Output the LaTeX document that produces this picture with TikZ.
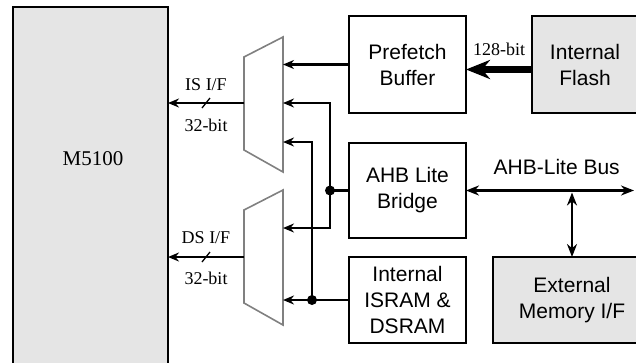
\documentclass[tikz,border=0pt]{standalone}
\usepackage{fontspec}
\setmainfont{Liberation Serif}
\setsansfont{Liberation Sans}
\usetikzlibrary{arrows.meta,positioning,calc}

\begin{document}
\begin{tikzpicture}[
  x=1pt, y=-1pt,
  >={Stealth[length=11pt,width=9pt]},
  every node/.style={inner sep=0pt, outer sep=0pt},
  blk/.style={draw, line width=2.2pt, fill=white, minimum width=117pt,
    align=center, font=\sffamily\fontsize{21}{26}\selectfont},
  mem/.style={blk, fill=gray!20},
  conn/.style={line width=2.2pt},
  fat/.style={line width=7pt, -{Stealth[length=24pt,width=19pt]}},
  busarr/.style={line width=2.2pt,
    {Stealth[length=13pt,width=10pt]}-{Stealth[length=13pt,width=10pt]}},
  mux/.style={draw=gray, line width=1.6pt},
  note/.style={font=\fontsize{18}{20}\selectfont},
]
\useasboundingbox (0,0) rectangle (636,362);
\clip (0,0) rectangle (636,362);

% Core
\node[mem, minimum width=155pt, minimum height=400pt, anchor=north west] (cpu) at (13,7) {};
\node[font=\fontsize{21}{24}\selectfont] (cpulbl) at (93,159) {M5100};
% Prefetch buffer
\node[blk, minimum height=97pt, anchor=north west] (pf) at (349,16) {Prefetch\\Buffer};
% Flash to the right of the buffer
\node[mem, minimum width=106pt, minimum height=97pt, right=66pt of pf] (fl) {Internal\\Flash};
% Bridge below buffer
\node[blk, minimum height=95pt, below=30pt of pf] (br) {AHB Lite\\Bridge};
% SRAM below bridge
\node[blk, minimum height=86pt, below=19pt of br] (sr) {Internal\\ISRAM \&\\DSRAM};
% External memory
\node[mem, minimum width=158pt, minimum height=86pt, right=27pt of sr] (ext) {External\\Memory I/F};

% Muxes
\draw[mux] (244,57) -- (283,37) -- (283,172) -- (244,150) -- cycle;
\draw[mux] (244,210) -- (283,190) -- (283,325) -- (244,303) -- cycle;
\coordinate (imux) at (244,103);
\coordinate (dmux) at (244,257);
\coordinate (muxr) at (283,0);
\coordinate (ia) at (283,103);
\coordinate (ib) at (283,142);
\coordinate (da) at (283,228);
\coordinate (vahb) at (330,0);
\coordinate (vsram) at (312,0);
\coordinate (busend) at (634,0);

% Arrows
\draw[conn,->] (pf.west) -- (pf.west -| muxr);
\draw[conn] (br.west) -- (br.west -| vahb) coordinate (jahb);
\draw[conn,<->] (ia) -| (jahb) |- (da);
\fill (jahb) circle (5pt);
\draw[conn] (sr.west) -- (sr.west -| vsram) coordinate (jsr);
\draw[conn,<->] (ib) -| (jsr) -- (sr.west -| muxr);
\fill (jsr) circle (5pt);

\draw[conn,->] (imux) -- (imux -| cpu.east) coordinate[midway] (isw)
  node[note, midway, above=12pt] (islbl) {IS I/F}
  node[note, midway, below=16pt] (isbit) {32-bit};
\draw[line width=1.3pt] ([shift={(-4,5)}]isw) -- ([shift={(4,-5)}]isw);
\draw[conn,->] (dmux) -- (dmux -| cpu.east) coordinate[midway] (dsw)
  node[note, midway, above=13pt] (dslbl) {DS I/F}
  node[note, midway, below=15pt] (dsbit) {32-bit};
\draw[line width=1.3pt] ([shift={(-4,5)}]dsw) -- ([shift={(4,-5)}]dsw);

\draw[fat] ([yshift=-5pt]fl.west) -- ([yshift=-5pt]pf.east)
  node[note, midway, above=14pt] (wlbl) {128-bit};

\draw[busarr] (br.east) -- (br.east -| busend)
  node[pos=0.54, above=16pt, font=\sffamily\fontsize{21}{24}\selectfont] (buslbl) {AHB-Lite Bus};
\draw[busarr] ([yshift=-2pt]ext.north |- br.east) -- (ext.north);
\end{tikzpicture}
\end{document}
